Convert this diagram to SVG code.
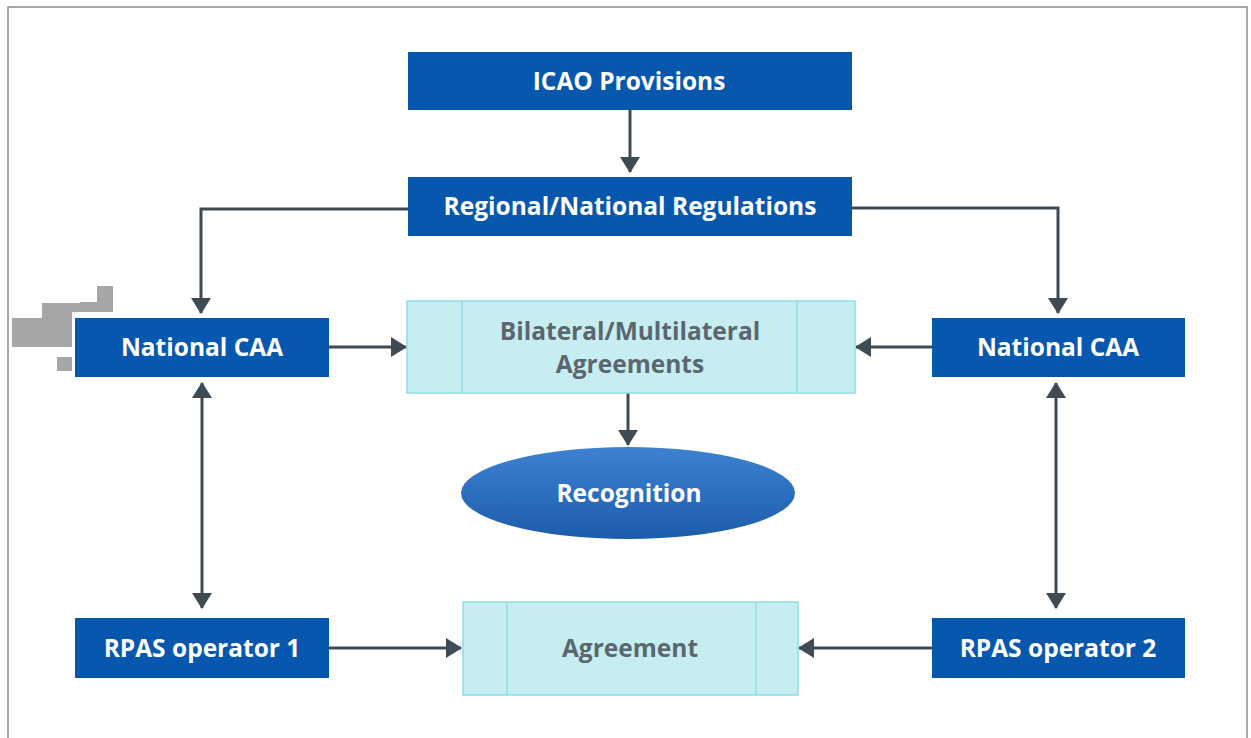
<svg xmlns="http://www.w3.org/2000/svg" width="1251" height="738" viewBox="0 0 1251 738">
<style>
.box{fill:#0857ae;}
.lt{fill:#c6eef1;stroke:#8fdce6;stroke-width:1.5;}
.ltl{stroke:#8fdce6;stroke-width:1.5;}
.wt{font-family:"Open Sans","DejaVu Sans",sans-serif;font-weight:bold;font-size:24.5px;fill:#ffffff;text-anchor:middle;}
.gt{font-family:"Open Sans","DejaVu Sans",sans-serif;font-weight:bold;font-size:24.5px;fill:#5b6670;text-anchor:middle;}
.con{fill:none;stroke:#3e4a54;stroke-width:3;}
</style>
<defs>
<marker id="ah" viewBox="0 0 16 20" refX="15" refY="10" markerWidth="16" markerHeight="20" markerUnits="userSpaceOnUse" orient="auto-start-reverse">
<path d="M0,0 L16,10 L0,20 z" fill="#3e4a54"/>
</marker>
<linearGradient id="eg" x1="0" y1="0" x2="0" y2="1">
<stop offset="0" stop-color="#3f82d2"/>
<stop offset="1" stop-color="#1b5cab"/>
</linearGradient>
</defs>
<rect x="0" y="0" width="1251" height="738" fill="#ffffff"/>
<path d="M8,738 L8,7 L1247,7 L1247,738" fill="none" stroke="#8c8c8c" stroke-width="1.5"/>
<path d="M12,318 L42,318 L42,303 L80,303 L80,302 L97,302 L97,286 L113,286 L113,312 L72,312 L72,347 L12,347 Z M57,357 L72,357 L72,371 L57,371 Z" fill="#a6a6a6"/>

<g id="connectors">
<path class="con" d="M630,110 L630,172" marker-end="url(#ah)"/>
<path class="con" d="M408,209 L201,209 L201,313" marker-end="url(#ah)"/>
<path class="con" d="M852,208 L1058,208 L1058,313" marker-end="url(#ah)"/>
<path class="con" d="M329,347 L406,347" marker-end="url(#ah)"/>
<path class="con" d="M932,347 L856,347" marker-end="url(#ah)"/>
<path class="con" d="M628,393 L628,445" marker-end="url(#ah)"/>
<path class="con" d="M202,383 L202,608" marker-start="url(#ah)" marker-end="url(#ah)"/>
<path class="con" d="M1056,383 L1056,608" marker-start="url(#ah)" marker-end="url(#ah)"/>
<path class="con" d="M329,648 L461,648" marker-end="url(#ah)"/>
<path class="con" d="M932,648 L799,648" marker-end="url(#ah)"/>
</g>

<g id="icao">
<rect class="box" x="408" y="52" width="444" height="58"/>
<text class="wt" x="629" y="90">ICAO Provisions</text>
</g>
<g id="regional">
<rect class="box" x="408" y="177" width="444" height="59"/>
<text class="wt" x="630" y="215">Regional/National Regulations</text>
</g>
<g id="caa1">
<rect class="box" x="75" y="318" width="254" height="59"/>
<text class="wt" x="202" y="356">National CAA</text>
</g>
<g id="caa2">
<rect class="box" x="932" y="318" width="253" height="59"/>
<text class="wt" x="1058" y="356">National CAA</text>
</g>
<g id="bilateral">
<rect class="lt" x="407" y="301" width="448" height="92"/>
<line class="ltl" x1="462" y1="301" x2="462" y2="393"/>
<line class="ltl" x1="797" y1="301" x2="797" y2="393"/>
<text class="gt" x="630" y="340">Bilateral/Multilateral</text>
<text class="gt" x="630" y="373">Agreements</text>
</g>
<g id="recognition">
<ellipse cx="628" cy="493" rx="167" ry="46" fill="url(#eg)"/>
<text class="wt" x="629" y="502">Recognition</text>
</g>
<g id="rpas1">
<rect class="box" x="75" y="618" width="254" height="60"/>
<text class="wt" x="202" y="657">RPAS operator 1</text>
</g>
<g id="agreement">
<rect class="lt" x="463" y="602" width="335" height="93"/>
<line class="ltl" x1="507" y1="602" x2="507" y2="695"/>
<line class="ltl" x1="756" y1="602" x2="756" y2="695"/>
<text class="gt" x="630" y="657">Agreement</text>
</g>
<g id="rpas2">
<rect class="box" x="932" y="618" width="253" height="60"/>
<text class="wt" x="1058" y="657">RPAS operator 2</text>
</g>
</svg>
